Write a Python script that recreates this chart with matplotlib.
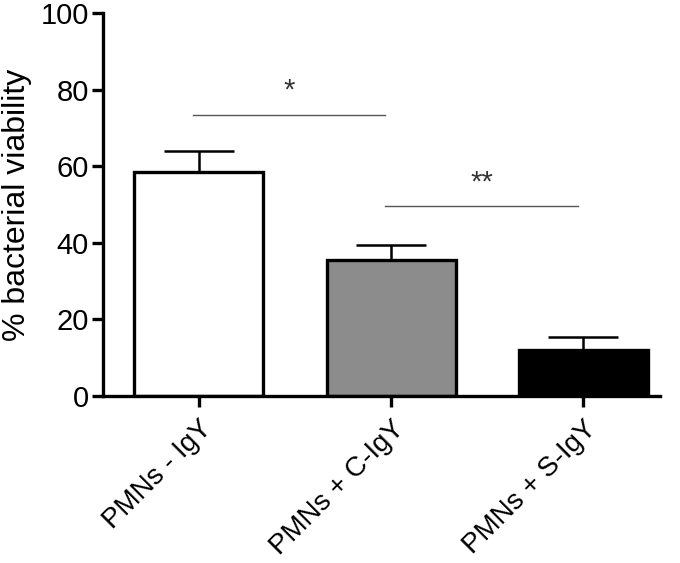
import numpy as np
import matplotlib.pyplot as plt

plt.rcParams['font.family'] = ['Liberation Sans', 'DejaVu Sans']

# data
groups = ['PMNs - IgY', 'PMNs + C-IgY', 'PMNs + S-IgY']
viability = [58.5, 35.5, 12.0]
sem = [5.5, 3.9, 3.4]
colors = ['white', '#8c8c8c', 'black']

# significance brackets: (left group, right group, height, label)
sig_pairs = [(0, 1, 73.5, '*'), (1, 2, 49.6, '**')]

fig = plt.figure(figsize=(6.8, 5.63), dpi=100)
ax = fig.add_axes([0.151, 0.2966, 0.82, 0.680])

x = np.arange(len(groups))
ax.bar(x, viability, width=0.67, color=colors, edgecolor='black', linewidth=2.4, zorder=2)
for xi, v, e in zip(x, viability, sem):
    ax.errorbar(xi, v, yerr=[[0], [e]], fmt='none', ecolor='black',
                elinewidth=1.8, capsize=25, capthick=1.8, zorder=3)

for a, b, h, lab in sig_pairs:
    ax.plot([a - 0.03, b - 0.03], [h, h], color='#555555', linewidth=1.0)
    ax.text((a + b) / 2 - 0.03, h + 2.5, lab, ha='center', va='bottom', fontsize=21, color='#333333')

ax.set_xlim(-0.5, 2.4)
ax.set_ylim(0, 100)
ax.set_yticks([0, 20, 40, 60, 80, 100])
ax.set_xticks(x)
ax.set_xticklabels(groups, rotation=45, ha='right', rotation_mode='anchor', fontsize=20)
ax.set_ylabel('% bacterial viability', fontsize=23, labelpad=6)

for s in ['top', 'right']:
    ax.spines[s].set_visible(False)
for s in ['left', 'bottom']:
    ax.spines[s].set_linewidth(2.4)
ax.tick_params(axis='both', direction='out', length=8, width=2.4, pad=2)
ax.tick_params(axis='y', labelsize=21)
ax.tick_params(axis='x', pad=6)

plt.savefig('out.png', dpi=100)
